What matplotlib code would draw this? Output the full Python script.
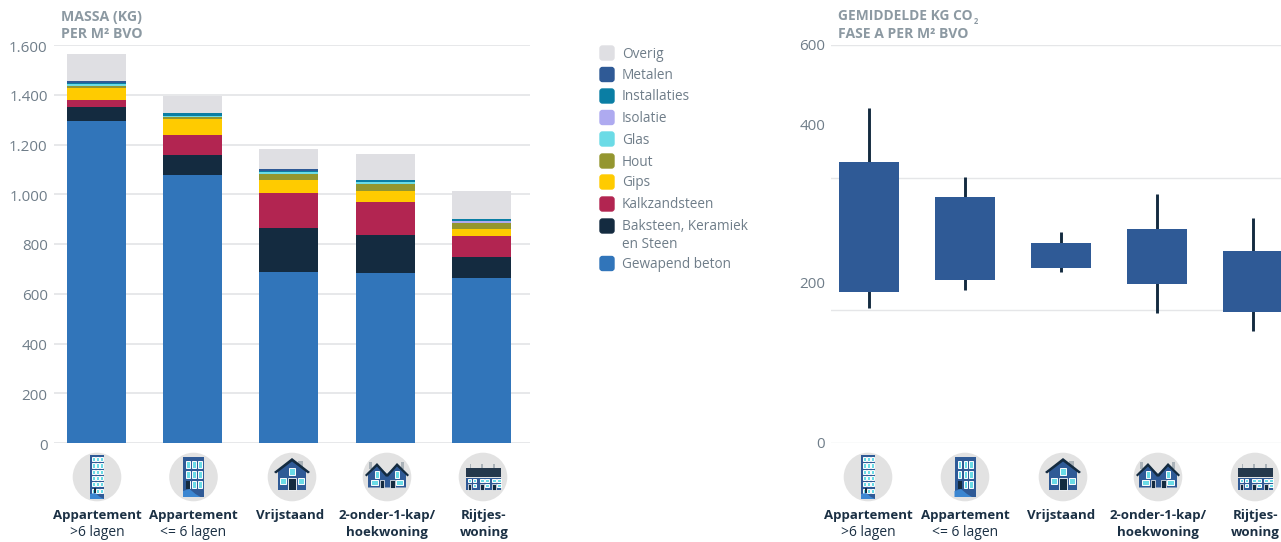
import matplotlib
matplotlib.use("Agg")
import matplotlib.pyplot as plt
from matplotlib.patches import Circle, Rectangle, Polygon, FancyBboxPatch
from matplotlib.transforms import ScaledTranslation
import numpy as np

plt.rcParams['font.family'] = ['Open Sans', 'DejaVu Sans']

W, H = 1281, 542

# ---- data: stacked mass (kg per m2), bottom to top
materials = ['Gewapend beton', 'Baksteen, Keramiek\nen Steen', 'Kalkzandsteen', 'Gips', 'Hout',
             'Glas', 'Isolatie', 'Installaties', 'Metalen', 'Overig']
colors = ['#3175ba', '#142b40', '#b22551', '#ffcb00', '#94962f',
          '#6bdbe6', '#aeaaf0', '#0a7ea4', '#2f5a96', '#dfdfe3']
beton       = [1294, 1077, 687, 683, 663]
baksteen    = [57, 81, 179, 153, 85]
kalkzand    = [28, 80, 139, 133, 84]
gips        = [48, 64, 52, 44, 28]
hout        = [8, 7, 24, 28, 24]
glas        = [8, 6, 10, 8, 0]
isolatie    = [0, 0, 0, 0, 8]
installaties= [4, 10, 3, 8, 8]
metalen     = [10, 0, 6, 0, 2]
overig      = [107, 70, 82, 105, 111]
stack = [beton, baksteen, kalkzand, gips, hout, glas, isolatie, installaties, metalen, overig]

cat_main = ['Appartement', 'Appartement', 'Vrijstaand', '2-onder-1-kap/', 'Rijtjes-']
cat_sub  = ['>6 lagen', '<= 6 lagen', '', 'hoekwoning', 'woning']
sub_bold = [False, False, False, True, True]

# ---- data: CO2 ranges
box_high = [423.6, 370.9, 301.5, 322.6, 289.4]
box_low  = [227.6, 245.8, 263.8, 239.7, 197.5]
whisk_high = [505, 401.5, 318, 375.4, 339]
whisk_low  = [204, 230, 258, 195.6, 169]

left_ticks = [0, 200, 400, 600, 800, 1000, 1200, 1400, 1600]
left_labels = ['0', '200', '400', '600', '800', '1.000', '1.200', '1.400', '1.600']
right_grid = [0, 200, 400, 600]
right_labels = ['600', '400', '200', '0']

GRID = '#e5e6e8'
TICK = '#6f7d89'
TITLE = '#8c99a2'
DARK = '#1b3044'
BOX = '#2f5a96'
WHISK = '#142b40'

fig = plt.figure(figsize=(W/100, H/100), dpi=100, facecolor='white')

def make_ax(x0, x1, y0, y1, glw):
    a = fig.add_axes([x0/W, 1-y1/H, (x1-x0)/W, (y1-y0)/H])
    for s in a.spines.values():
        s.set_visible(False)
    a.set_facecolor('none')
    a.set_axisbelow(True)
    a.grid(axis='y', color=GRID, lw=glw)
    a.tick_params(length=0)
    a.set_xticks([])
    return a

# left chart
ax = make_ax(54, 530, 45, 443, 1.3)
ax.set_xlim((54-96.5)/96.2, (530-96.5)/96.2)
ax.set_ylim(0, 1600)
x = np.arange(5)
bottom = np.zeros(5)
for vals, col, name in zip(stack, colors, materials):
    ax.bar(x, vals, 0.614, bottom=bottom, color=col, label=name, lw=0)
    bottom += np.array(vals)
ax.set_yticks(left_ticks)
ax.set_yticklabels(left_labels, fontsize=10.9, color=TICK)
ax.tick_params(axis='y', pad=4.5)
shift = ScaledTranslation(0, -1/100, fig.dpi_scale_trans)
for lab in ax.get_yticklabels():
    lab.set_transform(lab.get_transform() + shift)

# right chart
ax2 = make_ax(831, 1281, 45, 443, 1.0)
ax2.set_xlim((831-869)/96, (1281-869)/96)
ax2.set_ylim(0, 600)
ax2.set_yticks(right_grid)
ax2.set_yticklabels([])
ax2.bar(x, np.array(box_high)-np.array(box_low), 0.625, bottom=box_low, color=BOX, lw=0, zorder=3)
ax2.vlines(x, whisk_low, whisk_high, color=WHISK, lw=2.1, zorder=2)

# pixel overlay
ov = fig.add_axes([0, 0, 1, 1], facecolor='none')
ov.set_xlim(0, W); ov.set_ylim(H, 0); ov.axis('off')

def T(px, py, s, **k):
    k.setdefault('va', 'center')
    ov.text(px, py, s, **k)

# titles
T(61, 16.5, 'MASSA (KG)', fontsize=10.2, fontweight='bold', color=TITLE)
T(61, 33.5, 'PER M² BVO', fontsize=10.2, fontweight='bold', color=TITLE)
T(838, 16.5, 'GEMIDDELDE KG CO', fontsize=9.95, fontweight='bold', color=TITLE)
T(973.5, 22, '2', fontsize=5.5, fontweight='bold', color=TITLE)
T(838, 33.5, 'FASE A PER M² BVO', fontsize=10.1, fontweight='bold', color=TITLE)

# right y labels (as placed in the source)
for py, s in zip([47, 126, 285, 444.5], right_labels):
    T(825, py, s, ha='right', fontsize=10.9, color=TICK)

# legend
rows = [53, 74.5, 96, 117.5, 139, 161, 182, 204, 226, 263.5]
order = list(range(9, -1, -1))
for py, i in zip(rows, order):
    ov.add_patch(FancyBboxPatch((600, py-7), 14, 14, boxstyle='round,pad=0,rounding_size=2.5',
                                fc=colors[i], ec=colors[i], lw=1))
    if '\n' in materials[i]:
        a, b = materials[i].split('\n')
        T(622, py+1, a, fontsize=9.85, color=TICK)
        T(622, py+18, b, fontsize=9.85, color=TICK)
    else:
        T(622, py+1, materials[i], fontsize=9.85, color=TICK)

# icons
NAVY = '#2f5a96'; CY = '#6bdbe6'; BL = '#3b86d1'; DK = '#142b40'; GR = '#aab2b8'

def rect(cx, cy, x0, y0, x1, y1, c, z=3, ec='none', lw=0):
    ov.add_patch(Rectangle((cx+x0, cy+y0), x1-x0, y1-y0, fc=c, ec=ec, lw=lw, zorder=z))

def poly(cx, cy, pts, c, z=3, **k):
    ov.add_patch(Polygon([(cx+a, cy+b) for a, b in pts], closed=True, fc=c, ec=k.get('ec', 'none'),
                         lw=k.get('lw', 0), zorder=z, joinstyle='miter'))

def win(cx, cy, x0, y0, x1, y1):
    rect(cx, cy, x0, y0, x1, y1, CY, z=4, ec='white', lw=0.7)

def icon_tall(cx, cy):
    rect(cx, cy, -7, -22, 7, 22, NAVY)
    for wy in [-18, -11.5, -5, 1, 7, 14]:
        for wx in [-3.8, 0.2, 4.2]:
            win(cx, cy, wx-1.5, wy-2.2, wx+1.5, wy+2.2)
    poly(cx, cy, [(-7, 17), (-2, 16), (3, 20), (7, 22), (-7, 22)], BL, z=5)
    rect(cx, cy, -3.5, 11, -1, 16, DK, z=6)

def icon_apt(cx, cy):
    rect(cx, cy, -10.5, -20, 10.5, 20, NAVY)
    for wy in [-13, -3, 7]:
        for wx in [-5.5, 0.5, 6.2]:
            win(cx, cy, wx-1.9, wy-3.5, wx+1.9, wy+3.5)
    rect(cx, cy, -7.5, 3.5, -3.5, 12, DK, z=6)
    poly(cx, cy, [(-10.5, 14), (-4, 12), (2, 17), (7, 20), (-10.5, 20)], BL, z=5)

def icon_house(cx, cy):
    rect(cx, cy, 6, -16, 11, -8, GR, z=2)
    poly(cx, cy, [(0, -18), (14, -7), (14, 13), (-14, 13), (-14, -7)], NAVY)
    poly(cx, cy, [(0, -19), (18, -5), (16, -3.5), (0, -15.5), (-16, -3.5), (-18, -5)], DK, z=4)
    win(cx, cy, -3, -9, 3, -2)
    win(cx, cy, -12, 1, -6, 7)
    win(cx, cy, 6, 1, 12, 7)
    rect(cx, cy, -3.8, 1, 3.8, 13, DK, z=5, ec='white', lw=0.6)

def icon_pair(cx, cy):
    rect(cx, cy, -18, -15, -15, -8, GR, z=2)
    rect(cx, cy, 14, -15, 17, -8, GR, z=2)
    for s in (-1, 1):
        poly(cx, cy, [(s*10, -12), (s*19, -3), (s*19, 10.5), (0, 10.5), (0, -3)], NAVY)
        poly(cx, cy, [(s*10, -14), (s*22, -2), (s*20.5, -0.5), (s*10, -10.5), (s*0.8, 0), (-s*0.8, -2)], DK, z=4)
        win(cx, cy, s*10-2, -6, s*10+2, 1)
    win(cx, cy, -16, 3, -9, 8)
    win(cx, cy, 9, 3, 16, 8)
    rect(cx, cy, -7.5, 3, -3, 11, DK, z=5, ec='white', lw=0.5)
    rect(cx, cy, 3, 3, 7.5, 11, DK, z=5, ec='white', lw=0.5)

def icon_row(cx, cy):
    for wx in [-12.5, -1, 11]:
        rect(cx, cy, wx-0.8, -13, wx+0.8, -9, GR, z=2)
    rect(cx, cy, -17.5, 1, 18, 13, NAVY)
    rect(cx, cy, -17.5, -9, 18, 0, '#25384c', z=4)
    for ux in [-14.5, -2, 10]:
        win(cx, cy, ux-1, 2, ux+2.5, 5)
        win(cx, cy, ux+4, 2, ux+7.5, 5)
        win(cx, cy, ux+4, 7, ux+7.5, 10)
        rect(cx, cy, ux-1, 7, ux+2.5, 13, DK, z=5, ec='white', lw=0.5)

icons = [icon_tall, icon_apt, icon_house, icon_pair, icon_row]
centers_l = [97, 193.5, 292, 387, 483]
centers_r = [868, 965, 1063, 1158, 1255]
labels_l = [97, 193.5, 290, 387, 484]
labels_r = [868, 965, 1061, 1158, 1255]

for centers, labels in [(centers_l, labels_l), (centers_r, labels_r)]:
    for k in range(5):
        ov.add_patch(Circle((centers[k], 477), 24.3, fc='#e2e2e2', ec='none', zorder=1))
        icons[k](centers[k], 477)
        T(labels[k], 515, cat_main[k], ha='center', fontsize=9.5, fontweight='bold', color=DARK)
        if cat_sub[k]:
            bold = sub_bold[k]
            T(labels[k], 532.5, cat_sub[k], ha='center', fontsize=9.5 if bold else 10,
              fontweight='bold' if bold else 'normal', color=DARK)

fig.savefig('out.png', dpi=100)
